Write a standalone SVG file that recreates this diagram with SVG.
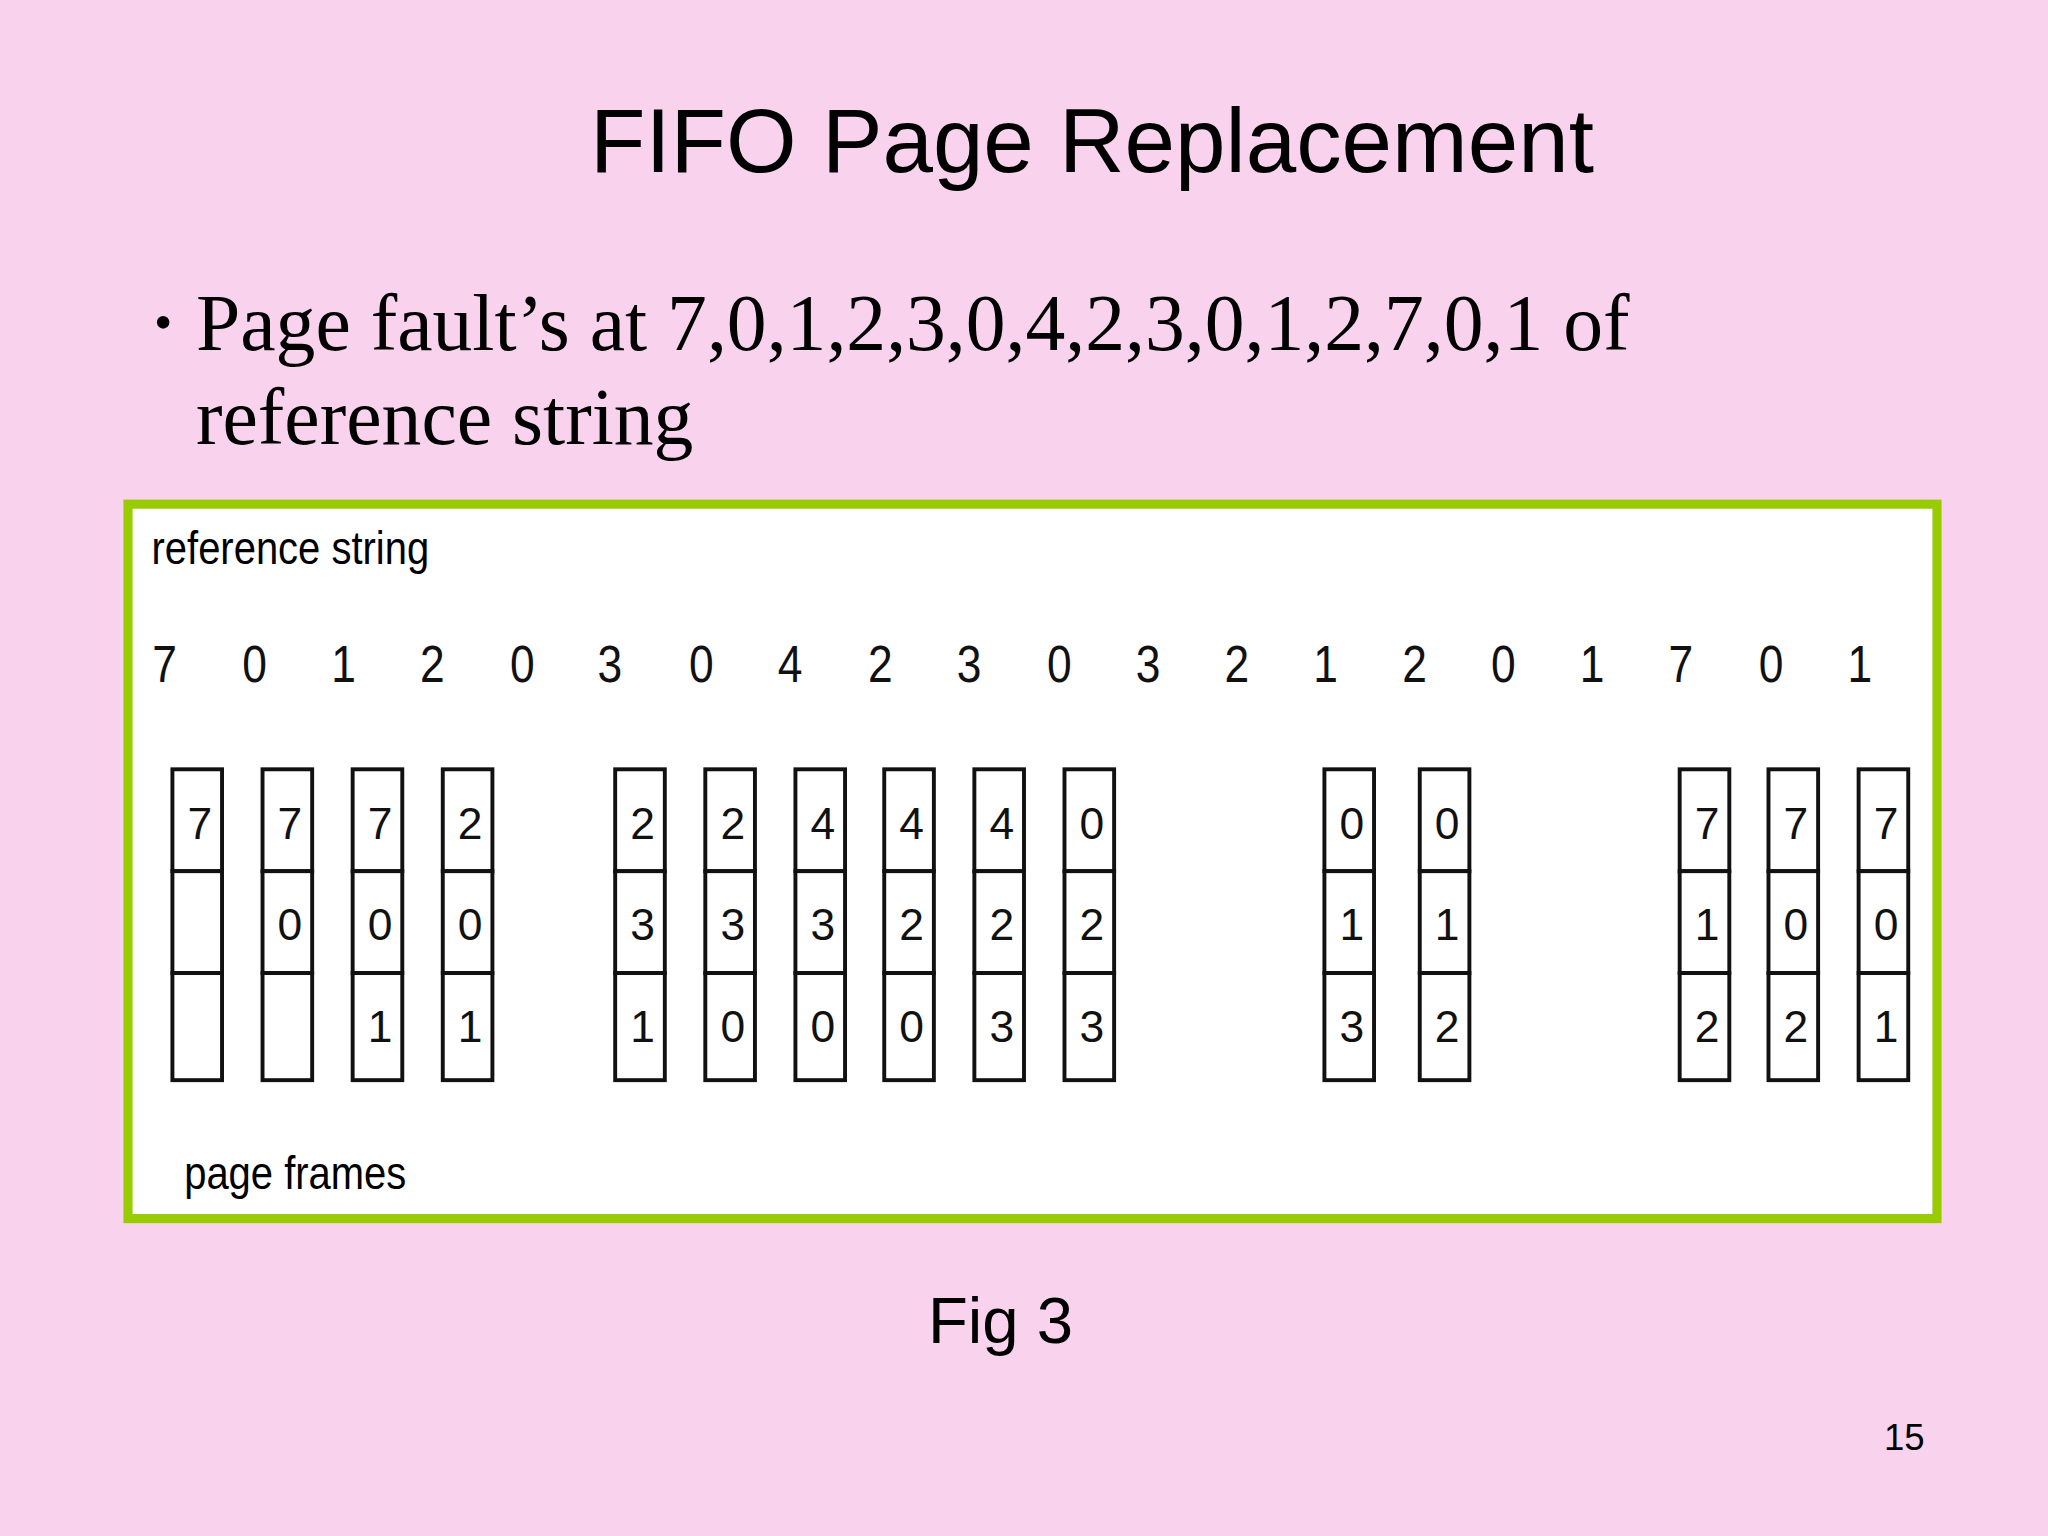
<svg xmlns="http://www.w3.org/2000/svg" width="2048" height="1536" viewBox="0 0 2048 1536">
<style>
.s{font-family:"Liberation Sans",Arial,sans-serif;fill:#000}
.r{font-family:"Liberation Serif","Times New Roman",serif;fill:#000}
.n{font-family:"Liberation Sans",Arial,sans-serif;font-size:34px;fill:#111;text-anchor:middle}
.b{fill:#fff;stroke:#111;stroke-width:3}
</style>
<rect width="2048" height="1536" fill="#F9D3EE"/>
<g transform="scale(1.30612)">
<text class="s" x="836" y="132" font-size="69.5" text-anchor="middle">FIFO Page Replacement</text>
<text class="r" x="118" y="260" font-size="40">•</text>
<text class="r" x="150" y="268" font-size="61">Page fault’s at 7,0,1,2,3,0,4,2,3,0,1,2,7,0,1 of</text>
<text class="r" x="150" y="340" font-size="61">reference string</text>
<rect x="98" y="386" width="1385" height="547" fill="#fff" stroke="#99CC00" stroke-width="7"/>
<text class="s" x="116" y="432" font-size="36" transform="translate(116 0) scale(0.85 1) translate(-116 0)">reference string</text>
<g id="refstring" class="n" transform="translate(0 522) scale(1 1.15) translate(0 -522)">
<text x="126" y="522">7</text><text x="195" y="522">0</text><text x="263" y="522">1</text><text x="331" y="522">2</text><text x="400" y="522">0</text><text x="467" y="522">3</text><text x="537" y="522">0</text><text x="605" y="522">4</text><text x="674" y="522">2</text><text x="742" y="522">3</text><text x="811" y="522">0</text><text x="879" y="522">3</text><text x="947" y="522">2</text><text x="1015" y="522">1</text><text x="1083" y="522">2</text><text x="1151" y="522">0</text><text x="1219" y="522">1</text><text x="1287" y="522">7</text><text x="1356" y="522">0</text><text x="1424" y="522">1</text>
</g>
<defs>
<g id="col"><rect class="b" x="0" y="589" width="38" height="78"/><rect class="b" x="0" y="667" width="38" height="78"/><rect class="b" x="0" y="745" width="38" height="82"/></g>
</defs>
<g id="frames" class="n">
<use href="#col" x="132"/><text x="153" y="642">7</text>
<use href="#col" x="201"/><text x="222" y="642">7</text><text x="222" y="720">0</text>
<use href="#col" x="270"/><text x="291" y="642">7</text><text x="291" y="720">0</text><text x="291" y="798">1</text>
<use href="#col" x="339"/><text x="360" y="642">2</text><text x="360" y="720">0</text><text x="360" y="798">1</text>
<use href="#col" x="471"/><text x="492" y="642">2</text><text x="492" y="720">3</text><text x="492" y="798">1</text>
<use href="#col" x="540"/><text x="561" y="642">2</text><text x="561" y="720">3</text><text x="561" y="798">0</text>
<use href="#col" x="609"/><text x="630" y="642">4</text><text x="630" y="720">3</text><text x="630" y="798">0</text>
<use href="#col" x="677"/><text x="698" y="642">4</text><text x="698" y="720">2</text><text x="698" y="798">0</text>
<use href="#col" x="746"/><text x="767" y="642">4</text><text x="767" y="720">2</text><text x="767" y="798">3</text>
<use href="#col" x="815"/><text x="836" y="642">0</text><text x="836" y="720">2</text><text x="836" y="798">3</text>
<use href="#col" x="1014"/><text x="1035" y="642">0</text><text x="1035" y="720">1</text><text x="1035" y="798">3</text>
<use href="#col" x="1087"/><text x="1108" y="642">0</text><text x="1108" y="720">1</text><text x="1108" y="798">2</text>
<use href="#col" x="1286"/><text x="1307" y="642">7</text><text x="1307" y="720">1</text><text x="1307" y="798">2</text>
<use href="#col" x="1354"/><text x="1375" y="642">7</text><text x="1375" y="720">0</text><text x="1375" y="798">2</text>
<use href="#col" x="1423"/><text x="1444" y="642">7</text><text x="1444" y="720">0</text><text x="1444" y="798">1</text>
</g>
<text class="s" x="141" y="910" font-size="36" transform="translate(141 0) scale(0.85 1) translate(-141 0)">page frames</text>
<text class="s" x="766" y="1028" font-size="50" text-anchor="middle">Fig 3</text>
<text class="s" x="1458" y="1110" font-size="28" text-anchor="middle">15</text>
</g>
</svg>
